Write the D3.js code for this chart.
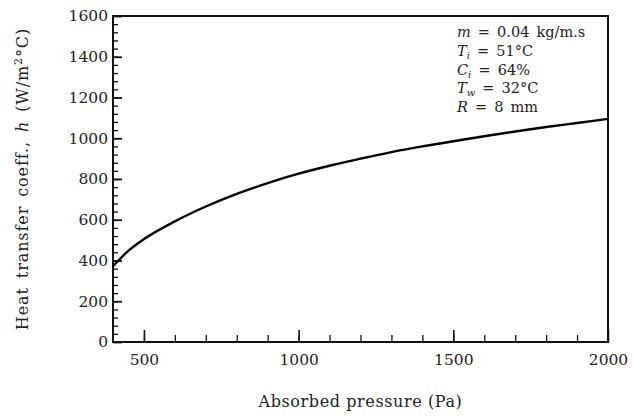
<!DOCTYPE html>
<html>
<head>
<meta charset="utf-8">
<script src="https://cdn.jsdelivr.net/npm/d3@7"></script>
<style>
  body { margin: 0; background: #fff; }
  text { font-family: "DejaVu Serif", "Liberation Serif", serif; fill: #222; }
</style>
</head>
<body>
<div id="chart"></div>
<script>
// values
var pressure = [400, 450, 500, 600, 700, 800, 900, 1000, 1100, 1200, 1300, 1400, 1500, 1600, 1700, 1800, 1900, 2000];
var heatCoeff = [372, 448, 505, 592, 665, 727, 780, 826, 865, 900, 932, 960, 985, 1010, 1033, 1055, 1075, 1095];
var xTicks = [500, 1000, 1500, 2000];
var yTicks = [0, 200, 400, 600, 800, 1000, 1200, 1400, 1600];

var width = 634, height = 416;
var margin = { top: 16, right: 26, bottom: 74, left: 113 };
var w = width - margin.left - margin.right;
var h = height - margin.top - margin.bottom;

var svg = d3.select("#chart").append("svg")
  .attr("width", width)
  .attr("height", height);

var g = svg.append("g")
  .attr("transform", `translate(${margin.left} ${margin.top})`);

var x = d3.scaleLinear().domain([400, 2000]).range([0, w]);
var y = d3.scaleLinear().domain([0, 1600]).range([h, 0]);

// minor ticks
g.append("g")
  .attr("transform", `translate(0 ${h})`)
  .call(d3.axisBottom(x).tickValues(d3.range(500, 2000, 100)).tickSize(-7).tickFormat(""))
  .call(a => a.select(".domain").remove())
  .call(a => a.selectAll("line").attr("stroke", "#111").attr("stroke-width", 1.3));

g.append("g")
  .call(d3.axisLeft(y).tickValues(d3.range(40, 1600, 40)).tickSize(-5).tickFormat(""))
  .call(a => a.select(".domain").remove())
  .call(a => a.selectAll("line").attr("stroke", "#111").attr("stroke-width", 1.3));

// major ticks + labels
var xAxis = g.append("g")
  .attr("transform", `translate(0 ${h})`)
  .call(d3.axisBottom(x).tickValues(xTicks).tickSize(-12).tickPadding(12).tickFormat(d3.format("d")));
xAxis.select(".domain").remove();
xAxis.selectAll("line").attr("stroke", "#111").attr("stroke-width", 1.6);
xAxis.selectAll("text").style("font-size", "15.5px").style("font-family", "DejaVu Serif").attr("fill", "#222");

var yAxis = g.append("g")
  .call(d3.axisLeft(y).tickValues(yTicks).tickSize(-9).tickPadding(5).tickFormat(d3.format("d")));
yAxis.select(".domain").remove();
yAxis.selectAll("line").attr("stroke", "#111").attr("stroke-width", 1.8);
yAxis.selectAll("text").style("font-size", "15.5px").style("font-family", "DejaVu Serif").attr("fill", "#222");

// frame
g.append("rect")
  .attr("width", w).attr("height", h)
  .attr("fill", "none").attr("stroke", "#111").attr("stroke-width", 2);

// curve
var line = d3.line()
  .x((d, i) => x(pressure[i]))
  .y(d => y(d))
  .curve(d3.curveMonotoneX);

g.append("path")
  .datum(heatCoeff)
  .attr("d", line)
  .attr("fill", "none")
  .attr("stroke", "#000")
  .attr("stroke-width", 2.4);

// axis titles
svg.append("text")
  .attr("x", margin.left + w / 2)
  .attr("y", 407)
  .attr("text-anchor", "middle")
  .style("font-size", "16px")
  .style("letter-spacing", "0.6px")
  .text("Absorbed pressure (Pa)");

var yl = svg.append("text")
  .attr("transform", `translate(28 ${margin.top + h / 2}) rotate(-90)`)
  .attr("text-anchor", "middle")
  .style("font-size", "16px")
  .style("letter-spacing", "0.9px")
  .style("word-spacing", "3px");
yl.append("tspan").text("Heat transfer coeff., ");
yl.append("tspan").style("font-style", "italic").text("h");
yl.append("tspan").text(" (W/m");
yl.append("tspan").attr("dy", -6).style("font-size", "11px").text("2");
yl.append("tspan").attr("dy", 6).text("°C)");

// parameter block
var params = [
  [["m", "i"], [" = 0.04 kg/m.s", ""]],
  [["T", "i"], ["i", "sub"], [" = 51°C", ""]],
  [["C", "i"], ["i", "sub"], [" = 64%", ""]],
  [["T", "i"], ["w", "sub"], [" = 32°C", ""]],
  [["R", "i"], [" = 8 mm", ""]]
];

var legend = svg.append("g").attr("transform", "translate(457 37)");
params.forEach((row, k) => {
  var t = legend.append("text")
    .attr("y", k * 18.8)
    .style("font-size", "14.5px")
    .style("word-spacing", "2.5px");
  row.forEach(p => {
    var s = t.append("tspan").text(p[0]);
    if (p[1] == "i") s.style("font-style", "italic");
    if (p[1] == "sub") s.style("font-style", "italic").style("font-size", "10px").attr("dy", 3);
    if (p[1] == "" && row.length == 3) s.attr("dy", -3);
  });
});
</script>
</body>
</html>
